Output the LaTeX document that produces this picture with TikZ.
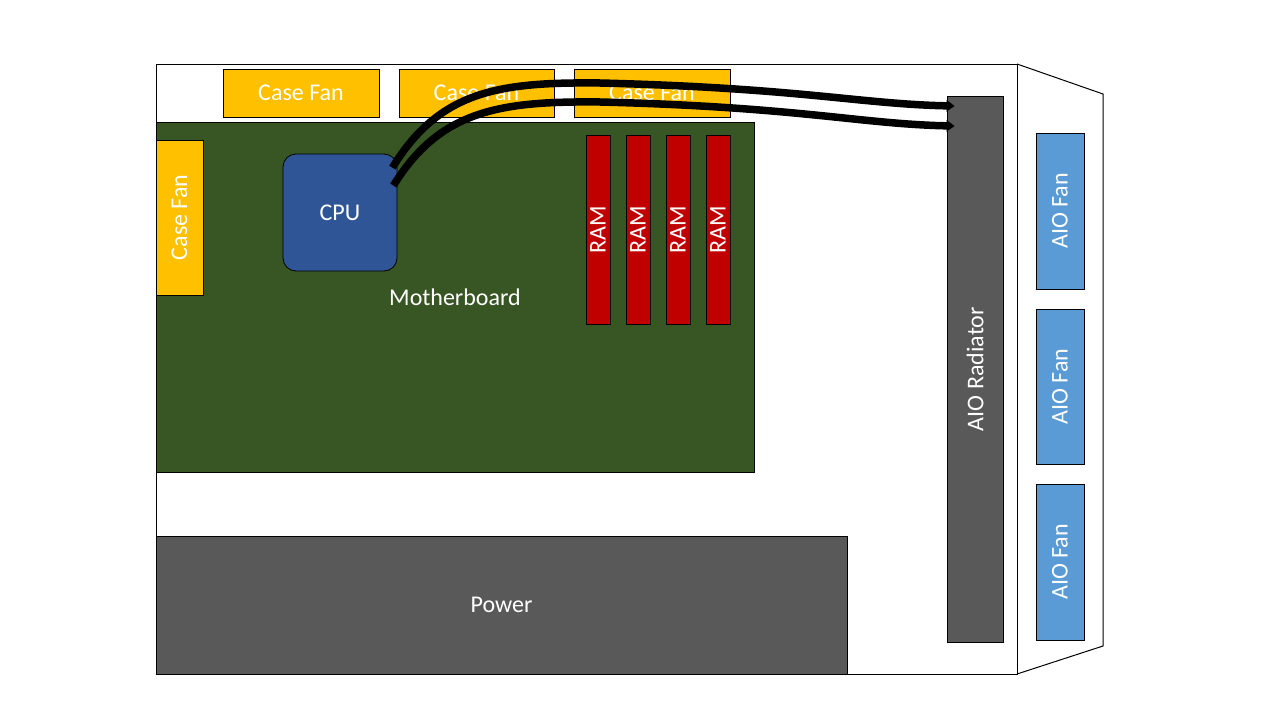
\documentclass[tikz,border=0pt]{standalone}
\usepackage{fontspec}
\setmainfont{Carlito}
\usetikzlibrary{calc,arrows.meta}
\usepackage{xcolor}
\definecolor{fanyellow}{HTML}{FFC000}
\definecolor{boardgreen}{HTML}{375623}
\definecolor{cpublue}{HTML}{2F5597}
\definecolor{ramred}{HTML}{C00000}
\definecolor{slategrey}{HTML}{595959}
\definecolor{aioblue}{HTML}{5B9BD5}
\newcommand{\ramslot}[2]{\node[comp, fill=ramred, rotate=90, minimum width=189, minimum height=24] (#1) at (#2,229.5) {RAM};}
\newcommand{\aiofan}[3]{\node[comp, fill=aioblue, rotate=90, minimum width=#3, minimum height=48] (#1) at (1060,#2) {AIO Fan};}

\tikzset{
  comp/.style={draw=black, line width=0.8pt, text=white, inner sep=0pt,
    font=\fontsize{24}{28}\selectfont},
  pipe/.style={line width=7.5pt, -{Triangle[width=11pt,length=8pt]}}
}

\begin{document}
\begin{tikzpicture}[x=1pt,y=-1pt]

    \useasboundingbox (0,0) rectangle (1280,720);

    % case
    \draw[line width=1pt] (156,64) rectangle (1017,674);
    \draw[line width=1pt] (1017,64) -- (1103,94) -- (1103,646) -- (1017,674);

    \node[comp, fill=fanyellow, minimum width=156, minimum height=48] (fantop1) at (301,93) {Case Fan};
    \node[comp, fill=fanyellow, minimum width=155, minimum height=48] (fantop2) at (476.5,93) {Case Fan};
    \node[comp, fill=fanyellow, minimum width=156, minimum height=48] (fantop3) at (652,93) {Case Fan};

    \node[comp, fill=boardgreen, minimum width=598, minimum height=350] (board) at (455,297) {Motherboard};
    \node[comp, fill=fanyellow, rotate=90, minimum width=155, minimum height=47] (fanside) at (179.5,217.5) {Case Fan};
    \node[comp, fill=cpublue, rounded corners=13pt, minimum width=114, minimum height=117] (cpu) at (340,212.5) {CPU};

    \ramslot{ram1}{598}
    \ramslot{ram2}{638}
    \ramslot{ram3}{678}
    \ramslot{ram4}{718}

    \node[comp, fill=slategrey, minimum width=691, minimum height=138] (power) at (501.5,605) {Power};
    \node[comp, fill=slategrey, rotate=90, minimum width=546, minimum height=56] (radiator) at (975,369) {AIO Radiator};

    \aiofan{aio1}{211}{156}
    \aiofan{aio2}{386.5}{155}
    \aiofan{aio3}{562}{156}

    % tubes
    \coordinate (tubeout1) at ($(cpu.north east)+(-5,14)$);
    \coordinate (tubeout2) at ($(cpu.north east)+(-4,32)$);
    \coordinate (tubein1) at ($(radiator.north)+(8,-263)$);
    \coordinate (tubein2) at ($(radiator.north)+(8,-243)$);
    \draw[pipe] (tubeout1) .. controls (440,90) and (500,82) .. (600,83) .. controls (800,88) and (860,104) .. (tubein1);
    \draw[pipe] (tubeout2) .. controls (440,110) and (500,101) .. (600,102) .. controls (800,107) and (860,124) .. (tubein2);

\end{tikzpicture}
\end{document}
